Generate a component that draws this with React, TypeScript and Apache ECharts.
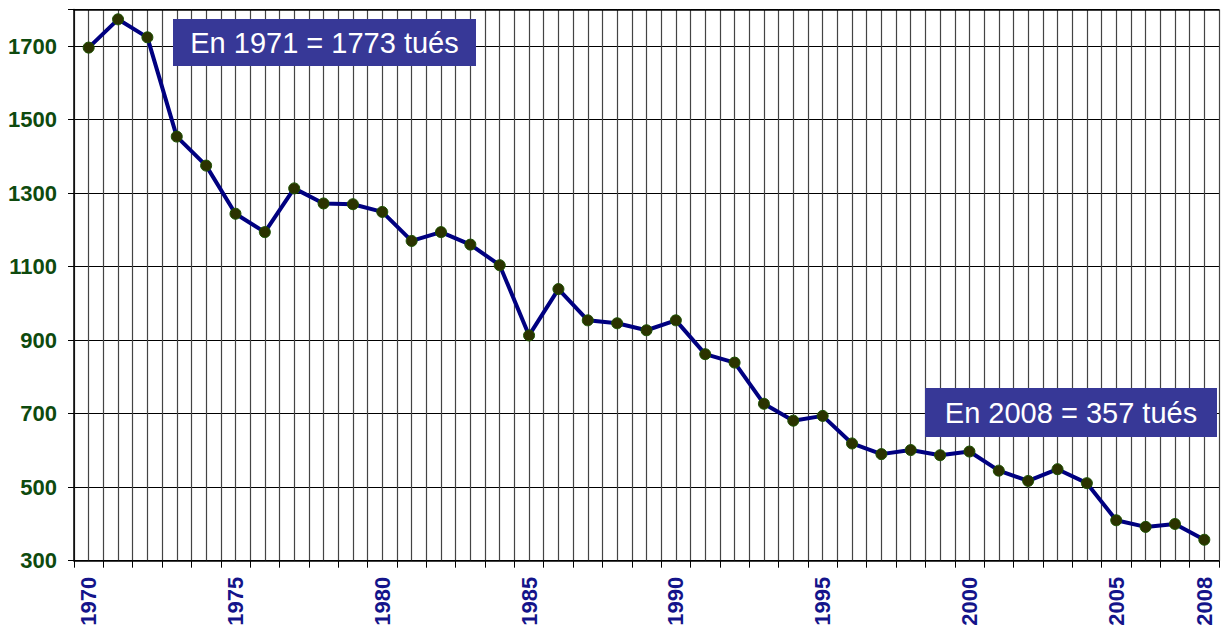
import React, { useEffect, useRef } from "react";
import * as echarts from "echarts";

const years: string[] = [
  "1970", "1971", "1972", "1973", "1974", "1975", "1976", "1977", "1978", "1979",
  "1980", "1981", "1982", "1983", "1984", "1985", "1986", "1987", "1988", "1989",
  "1990", "1991", "1992", "1993", "1994", "1995", "1996", "1997", "1998", "1999",
  "2000", "2001", "2002", "2003", "2004", "2005", "2006", "2007", "2008",
];

const killed: number[] = [
  1696, 1773, 1724, 1454, 1375, 1244, 1194, 1313, 1272, 1270,
  1249, 1170, 1194, 1160, 1104, 913, 1039, 954, 946, 927,
  954, 862, 839, 727, 681, 694, 619, 590, 601, 587,
  597, 545, 517, 549, 511, 410, 392, 400, 357,
];

const yTicks = { min: 300, max: 1800, interval: 200 };

const note1971 = "En 1971 = 1773 tués";
const note2008 = "En 2008 = 357 tués";

// half-year grid helper categories (two per year)
const halfSteps: string[] = years.flatMap((y) => [y + "a", y + "b"]);

export default function App() {
  const ref = useRef<HTMLDivElement>(null);
  useEffect(() => {
    if (!ref.current) return;
    const chart = echarts.init(ref.current, undefined, { renderer: "svg" });
    const lastIdx = years.length - 1;
    const boxFont = "29px 'Liberation Sans', Arial, sans-serif";
    chart.setOption({
      animation: false,
      backgroundColor: "#ffffff",
      grid: { left: 74, right: 2, top: 9.4, bottom: 65.3, containLabel: false, outerBoundsMode: "none" },
      xAxis: [
        {
          type: "category",
          data: years,
          position: "bottom",
          boundaryGap: true,
          axisLine: { show: true, lineStyle: { color: "#000", width: 1.5 } },
          axisTick: { show: true, interval: 0, length: 7, lineStyle: { color: "#000", width: 1 } },
          axisLabel: {
            interval: (i: number) => i % 5 === 0 || i === lastIdx,
            rotate: 90,
            margin: 16,
            color: "#14148a",
            fontFamily: "Liberation Sans",
            fontWeight: "bold",
            fontSize: 22,
          },
          splitLine: { show: false },
        },
        {
          type: "category",
          data: halfSteps,
          position: "top",
          boundaryGap: true,
          axisLine: { show: true, lineStyle: { color: "#000", width: 1.5 } },
          axisTick: { show: false },
          axisLabel: { show: false },
          splitLine: { show: true, interval: 0, lineStyle: { color: "#444", width: 1.2 } },
        },
      ],
      yAxis: {
        type: "value",
        min: yTicks.min,
        max: yTicks.max,
        interval: yTicks.interval,
        axisLine: { show: true, lineStyle: { color: "#000", width: 1.5 } },
        axisTick: { show: true, length: 6, lineStyle: { color: "#000" } },
        axisLabel: {
          margin: 17,
          color: "#0e4a0e",
          fontFamily: "Liberation Sans",
          fontWeight: "bold",
          fontSize: 22,
          formatter: (v: number) => (v === yTicks.max ? "" : String(v)),
        },
        splitLine: { show: true, lineStyle: { color: "#000", width: 1.2 } },
      },
      series: [
        {
          type: "line",
          data: killed,
          xAxisIndex: 0,
          symbol: "circle",
          symbolSize: 11,
          lineStyle: { color: "#000080", width: 4 },
          itemStyle: { color: "#2b3300", borderColor: "#1c5200", borderWidth: 1 },
          z: 5,
        },
      ],
      graphic: [
        {
          type: "rect",
          left: 173,
          top: 19,
          z: 100,
          shape: { width: 303, height: 47 },
          style: { fill: "#373897" },
        },
        {
          type: "text",
          x: 324.5,
          y: 43,
          z: 101,
          style: {
            text: note1971,
            fill: "#ffffff",
            font: boxFont,
            align: "center",
            verticalAlign: "middle",
          },
        },
        {
          type: "rect",
          left: 925,
          top: 388,
          z: 100,
          shape: { width: 292, height: 49 },
          style: { fill: "#373897" },
        },
        {
          type: "text",
          x: 1071,
          y: 413,
          z: 101,
          style: {
            text: note2008,
            fill: "#ffffff",
            font: boxFont,
            align: "center",
            verticalAlign: "middle",
          },
        },
      ],
    });
    return () => chart.dispose();
  }, []);
  return (
    <div
      ref={ref}
      style={{ position: "fixed", left: 0, top: 0, width: 1221, height: 626, background: "#fff" }}
    />
  );
}
